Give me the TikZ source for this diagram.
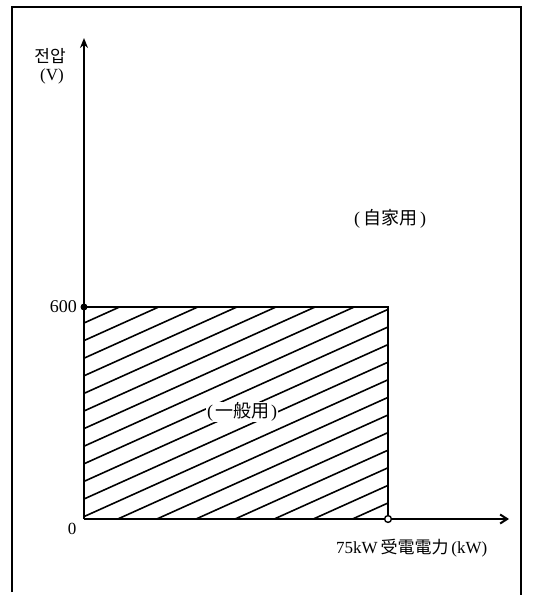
\documentclass[tikz,border=0pt]{standalone}
\usepackage{fontspec}
\setmainfont{Liberation Serif}
\newfontfamily\cjk{Noto Sans CJK JP}
\newfontfamily\kr{Noto Sans CJK KR}
\usetikzlibrary{arrows.meta}
\begin{document}
\begin{tikzpicture}[x=1pt,y=-1pt,
  frame/.style={line width=2pt},
  axis/.style={line width=2pt},
  hatch/.style={line width=1.6pt},
  lbl/.style={inner sep=1pt,font=\fontsize{17}{20}\selectfont},
  big/.style={inner sep=1pt,font=\fontsize{18}{21}\selectfont}]
\useasboundingbox (0,0) rectangle (543,595);
% frame
\coordinate (f1) at (12,592);
\coordinate (f2) at (12,7);
\coordinate (f3) at (521,7);
\coordinate (f4) at (521,595);
\draw[frame] (f1) -- (f2) -- (f3) -- (f4);
% key points
\coordinate (O) at (84,519);
\coordinate (ytop) at (84,38);
\coordinate (xend) at (509,519);
\coordinate (A) at (84,307);
\coordinate (B) at (388,307);
\coordinate (C) at (388,519);
% hatching
\begin{scope}
\clip (A) rectangle (C);
\foreach \k in {0,...,19} {
  \draw[hatch] (84,{323+17.6*\k}) -- ++(304,-136.8);
}
\end{scope}
% rectangle and axes
\draw[axis] (A) -- (B) -- (C);
\draw[axis,-{Stealth[length=10pt,width=8pt]}] (O) -- (ytop);
\draw[axis,-{Straight Barb[length=7pt,width=9pt]}] (O) -- (xend);
\fill (A) circle (3.5);
\draw[line width=1.4pt,fill=white] (C) circle (3.4);
% labels
\node[lbl] (ylab) at (50,56) {\kr 전압};
\node[lbl] (yunit) at (52,76) {(V)};
\node[big,anchor=east] (l600) at (78,307) {600};
\node[lbl] (l0) at (72,529) {0};
\node[lbl,anchor=west] (xlab) at (335,548) {75kW\,{\cjk 受電電力}\,(kW)};
\node[big] (self) at (390,219) {(\hspace{3pt}{\cjk 自家用}\hspace{3pt})};
\node[big,fill=white] (gen) at (242,412) {(\hspace{2pt}{\cjk 一般用}\hspace{2pt})};
\end{tikzpicture}
\end{document}
